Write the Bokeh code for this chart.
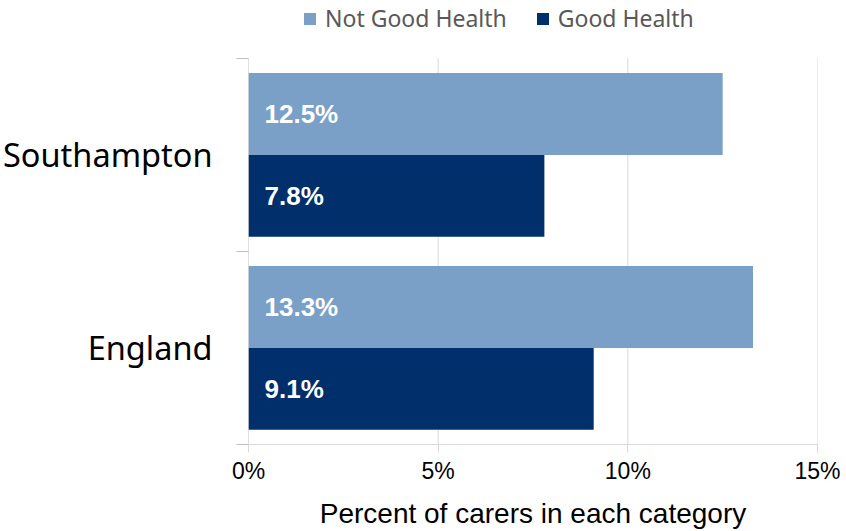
from bokeh.plotting import figure
from bokeh.models import ColumnDataSource, FixedTicker, Range1d, Legend, LegendItem
from bokeh.core.properties import value
from bokeh.embed import file_html
from bokeh.resources import INLINE

categories = ["Southampton", "England"]
series = ["Not Good Health", "Good Health"]
not_good = [12.5, 13.3]
good = [7.8, 9.1]
x_ticks = [0, 5, 10, 15]
x_tick_labels = ["0%", "5%", "10%", "15%"]
colors = ["#7BA0C7", "#002F6C"]

W, H = 846, 531
TOP_PAD = 58.0      # px between canvas top and the category area
CAT_PX = 193.5      # px per category band
p = figure(width=W, height=H, output_backend="svg", toolbar_location=None,
           x_range=Range1d(0, 15), y_range=Range1d(2, -TOP_PAD / CAT_PX),
           min_border_left=248, min_border_right=29, min_border_top=0,
           min_border_bottom=86)
p.outline_line_color = None
p.background_fill_color = "white"
p.xgrid.grid_line_color = None
p.ygrid.grid_line_color = None

# vertical grid lines (only over the category area) and y axis line
p.segment(x0=x_ticks[1:], y0=0, x1=x_ticks[1:], y1=2, line_color="#D9D9D9", line_width=1)
p.segment(x0=0, y0=0, x1=0, y1=2, line_color="#BFBFBF", line_width=1)

bw = 0.424
cy = [i + 0.5 for i in range(len(categories))]
src_ng = ColumnDataSource(dict(y=[c - bw / 2 for c in cy], right=not_good,
                               lab=["%.1f%%" % v for v in not_good]))
src_g = ColumnDataSource(dict(y=[c + bw / 2 for c in cy], right=good,
                              lab=["%.1f%%" % v for v in good]))

r1 = p.hbar(y="y", left=0, right="right", height=bw, source=src_ng,
            fill_color=colors[0], line_color=None)
r2 = p.hbar(y="y", left=0, right="right", height=bw, source=src_g,
            fill_color=colors[1], line_color=None)

for s in (src_ng, src_g):
    p.text(x=0, y="y", text="lab", source=s, x_offset=16, text_baseline="middle",
           text_align="left", text_color="white", text_font_style="bold",
           text_font=value("Liberation Sans"), text_font_size="26px")

# x axis
p.xaxis.ticker = FixedTicker(ticks=x_ticks)
p.xaxis.major_label_overrides = {t: l for t, l in zip(x_ticks, x_tick_labels)}
p.xaxis.axis_line_color = "#D9D9D9"
p.xaxis.major_tick_line_color = "#D9D9D9"
p.xaxis.major_tick_out = 8
p.xaxis.major_tick_in = 0
p.xaxis.minor_tick_line_color = None
p.xaxis.major_label_text_font = "Liberation Sans"
p.xaxis.major_label_text_font_size = "23px"
p.xaxis.major_label_text_color = "#000000"
p.xaxis.major_label_standoff = 5
p.xaxis.axis_label = "Percent of carers in each category"
p.xaxis.axis_label_text_font = "Liberation Sans"
p.xaxis.axis_label_text_font_size = "28px"
p.xaxis.axis_label_text_font_style = "normal"
p.xaxis.axis_label_text_color = "#000000"
p.xaxis.axis_label_standoff = 11

# y axis: labels at centres, tick marks at boundaries
p.yaxis.ticker = FixedTicker(ticks=cy, minor_ticks=[0, 1, 2])
p.yaxis.major_label_overrides = {c: n for c, n in zip(cy, categories)}
p.yaxis.axis_line_color = None
p.yaxis.major_tick_line_color = None
p.yaxis.major_tick_out = 0
p.yaxis.major_tick_in = 0
p.yaxis.minor_tick_line_color = "#BFBFBF"
p.yaxis.minor_tick_out = 12
p.yaxis.minor_tick_in = 0
p.yaxis.major_label_text_font = "Noto Sans"
p.yaxis.major_label_text_font_size = "32.5px"
p.yaxis.major_label_text_color = "#000000"
p.yaxis.major_label_standoff = 24

legend = Legend(items=[LegendItem(label=series[0], renderers=[r1]),
                       LegendItem(label=series[1], renderers=[r2])],
                orientation="horizontal", location=(54, 410),
                label_text_font="Noto Sans", label_text_font_size="23px",
                label_text_color="#595959", glyph_width=15, glyph_height=15,
                label_standoff=8, spacing=28, padding=0, margin=0,
                border_line_color=None, background_fill_alpha=0)
p.add_layout(legend, "center")

open("out.html", "w").write(file_html(p, INLINE))
